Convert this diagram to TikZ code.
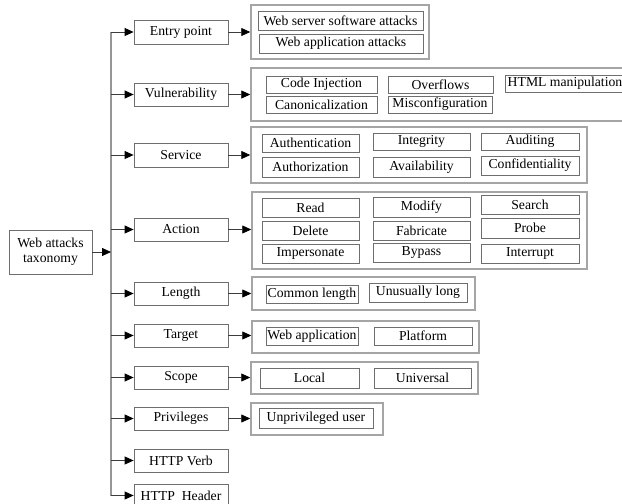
\documentclass[tikz,border=0pt]{standalone}
\usepackage{fontspec}
\setmainfont{Liberation Serif}
\usetikzlibrary{arrows.meta}
\newcommand{\bx}[7]{\node[#1,minimum width={(#5)-(#4)},minimum height={(#7)-(#6)}] (#2) at ({((#4)+(#5))/2},{((#6)+(#7))/2}) {#3};}
\tikzset{
  ibox/.style={draw={rgb,255:red,110;green,110;blue,110},line width=0.8pt,inner sep=0pt,font=\fontsize{13.7}{15}\selectfont},
  cbox/.style={ibox},
  gbox/.style={draw={rgb,255:red,165;green,165;blue,165},line width=1.5pt,inner sep=0pt},
  conn/.style={draw={rgb,255:red,60;green,60;blue,60},line width=0.8pt,-{Triangle[length=9pt,width=8pt,color=black]}},
  trunkline/.style={draw={rgb,255:red,150;green,150;blue,150},line width=1.3pt}
}
\begin{document}
\begin{tikzpicture}[x=1pt,y=-1pt]
\useasboundingbox[fill=white] (0,0) rectangle (622,504);
% groups
\bx{gbox}{gentry}{}{251}{429}{5}{59}
\bx{gbox}{gvuln}{}{251}{628}{68}{121}
\bx{gbox}{gserv}{}{251}{587}{127}{183}
\bx{gbox}{gact}{}{252}{587}{192}{269}
\bx{gbox}{glen}{}{252}{475}{277}{310}
\bx{gbox}{gtarg}{}{252}{479}{321}{353}
\bx{gbox}{gscope}{}{251}{478}{362}{394}
\bx{gbox}{gpriv}{}{251}{383}{403}{435}
% inner boxes
\bx{ibox}{ws}{Web server software attacks}{258}{423}{11}{30}
\bx{ibox}{wa}{Web application attacks}{259}{423}{34}{53}
\bx{ibox}{ci}{Code Injection}{266}{377}{76}{93}
\bx{ibox}{ov}{Overflows}{388}{493}{76}{93}
\bx{ibox}{html}{\hspace*{-5pt}HTML manipulation}{505}{630}{75}{92}
\bx{ibox}{can}{Canonicalization}{266}{377}{96}{113}
\bx{ibox}{mis}{Misconfiguration}{388}{492}{96}{113}
\bx{ibox}{auth}{Authentication}{262}{359}{134}{152}
\bx{ibox}{integ}{Integrity}{373}{470}{133}{150}
\bx{ibox}{audit}{Auditing}{481}{579}{133}{150}
\bx{ibox}{authz}{Authorization}{262}{359}{157}{177}
\bx{ibox}{avail}{Availability}{373}{470}{157}{177}
\bx{ibox}{conf}{Confidentiality}{481}{579}{156}{175}
\bx{ibox}{read}{Read}{262}{359}{198}{217}
\bx{ibox}{modify}{Modify}{373}{470}{197}{217}
\bx{ibox}{search}{Search}{481}{579}{195}{214}
\bx{ibox}{delete}{Delete}{262}{359}{221}{240}
\bx{ibox}{fabr}{Fabricate}{373}{470}{221}{240}
\bx{ibox}{probe}{Probe}{481}{579}{218}{238}
\bx{ibox}{imper}{Impersonate}{262}{359}{244}{263}
\bx{ibox}{bypass}{Bypass}{373}{470}{243}{262}
\bx{ibox}{interr}{Interrupt}{481}{579}{244}{263}
\bx{ibox}{common}{Common length}{266}{358}{285}{303}
\bx{ibox}{unusual}{Unusually long}{369}{467}{283}{302}
\bx{ibox}{webapp}{Web application}{266}{358}{327}{345}
\bx{ibox}{platf}{Platform}{374}{472}{327}{345}
\bx{ibox}{local}{Local}{260}{359}{368}{388}
\bx{ibox}{univ}{Universal}{374}{471}{368}{388}
\bx{ibox}{unpriv}{Unprivileged user}{259}{373}{408}{428}
% category boxes
\bx{cbox}{entry}{Entry point}{134}{228}{20}{44}
\bx{cbox}{vuln}{Vulnerability}{134}{228}{83}{106}
\bx{cbox}{serv}{Service}{134}{228}{143}{167}
\bx{cbox}{act}{Action}{134}{228}{218}{241}
\bx{cbox}{len}{Length}{134}{228}{282}{305}
\bx{cbox}{targ}{Target}{134}{228}{324}{347}
\bx{cbox}{scope}{Scope}{134}{228}{366}{389}
\bx{cbox}{priv}{Privileges}{134}{228}{407}{430}
\bx{cbox}{verb}{HTTP Verb}{134}{228}{449}{472}
\bx{cbox}{header}{HTTP\ \ Header}{134}{228}{484}{507}
% root
\node[ibox,align=center,minimum width=83,minimum height=44] (root) at (50.5,252) {Web attacks\\taxonomy};
% trunk
\coordinate (ttop) at (111,32);
\coordinate (tbot) at (111,495.5);
\draw[trunkline] (ttop) -- (tbot);
\draw[conn] (root.east) -- (root.east -| ttop);
\foreach \c in {entry,vuln,serv,act,len,targ,scope,priv,verb,header}{
  \draw[conn] (\c.west -| ttop) -- (\c.west);
}
\draw[conn] (entry.east) -- (entry.east -| gentry.west);
\draw[conn] (vuln.east) -- (vuln.east -| gvuln.west);
\draw[conn] (serv.east) -- (serv.east -| gserv.west);
\draw[conn] (act.east) -- (act.east -| gact.west);
\draw[conn] (len.east) -- (len.east -| glen.west);
\draw[conn] (targ.east) -- (targ.east -| gtarg.west);
\draw[conn] (scope.east) -- (scope.east -| gscope.west);
\draw[conn] (priv.east) -- (priv.east -| gpriv.west);
\end{tikzpicture}
\end{document}
